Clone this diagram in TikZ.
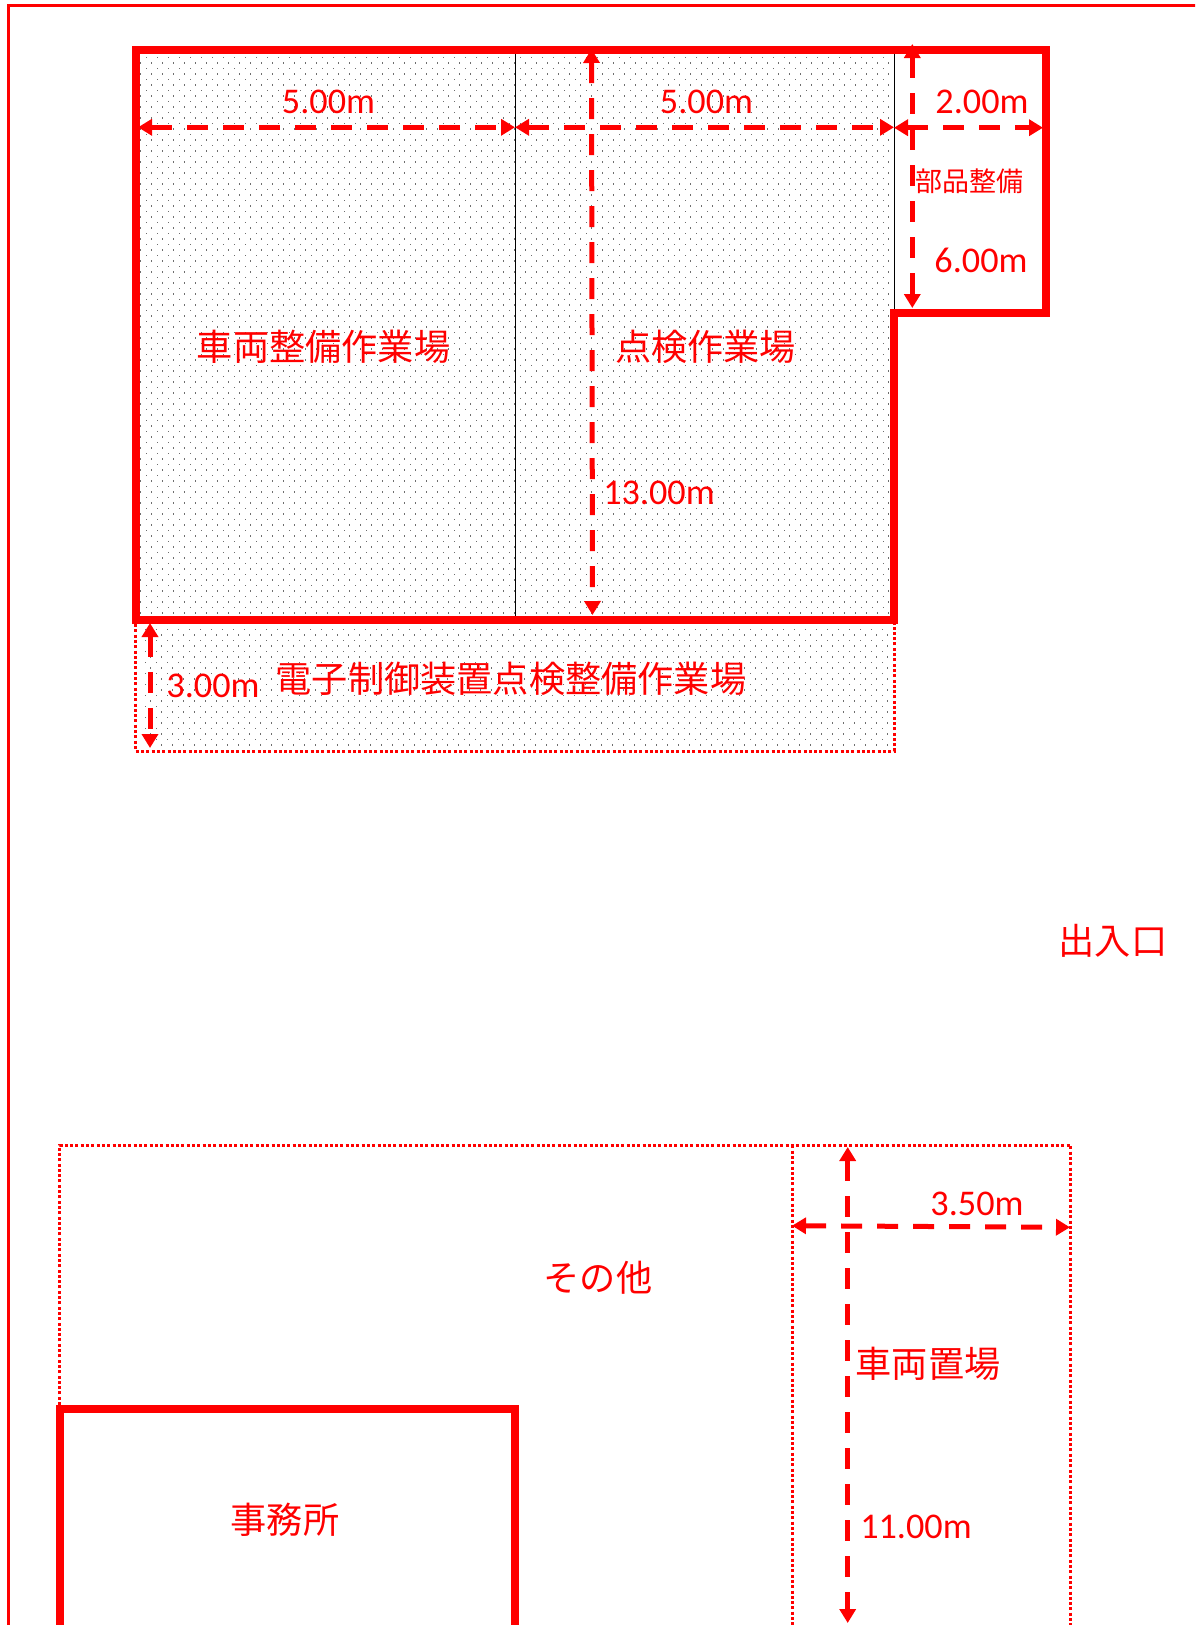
\documentclass[tikz,border=0pt]{standalone}
\usepackage{fontspec}
\setmainfont{Carlito}
\newfontfamily\jpfont{Noto Sans CJK JP}
\usetikzlibrary{arrows.meta}
\definecolor{dotgrey}{RGB}{110,110,110}
\tikzset{
  wall/.style={draw=red,line width=8.5pt,line join=miter},
  zone/.style={draw=red,line width=3pt,dash pattern=on 3pt off 2.3pt},
  dim/.style={draw=red,line width=5pt,dash pattern=on 21pt off 15pt,{Triangle[length=14pt,width=16pt]}-{Triangle[length=14pt,width=16pt]}},
  dimtxt/.style={text=red,inner sep=0pt,font=\fontsize{36.2}{36}\selectfont},
  jptxt/.style={text=red,inner sep=0pt,font=\fontsize{36.2}{36}\selectfont\jpfont},
  jpsmall/.style={text=red,inner sep=0pt,font=\fontsize{27}{27}\selectfont\jpfont},
}
\begin{document}
\begin{tikzpicture}[x=1pt,y=-1pt]
\useasboundingbox (0,0) rectangle (1195,1625);
\clip (0,0) rectangle (1195,1625);
\fill[white] (0,0) rectangle (1195,1625);
% stippled floor
\foreach \r in {0,...,101}{
  \pgfmathsetmacro{\yy}{56.7+5.5*\r}
  \pgfmathsetmacro{\xs}{mod(\r,2)==0?145.5:140.0}
  \foreach \c in {0,...,68}{
    \pgfmathsetmacro{\xx}{\xs+11*\c}
    \fill[dotgrey] (\xx,\yy) rectangle ++(1.3,1.3);
  }
}
\foreach \r in {0,...,21}{
  \pgfmathsetmacro{\yy}{628.7+5.5*\r}
  \pgfmathsetmacro{\xs}{mod(\r,2)==0?144.5:150.0}
  \foreach \c in {0,...,67}{
    \pgfmathsetmacro{\xx}{\xs+11*\c}
    \fill[dotgrey] (\xx,\yy) rectangle ++(1.3,1.3);
  }
}
% frame
\draw[red,line width=3pt] (8.5,1640) -- (8.5,5.5) -- (1210,5.5);
% partitions
\draw[black,line width=1pt] (515,54) -- (515,616);
\draw[black,line width=1pt] (894.3,54) -- (894.3,309);
% dotted zones
\draw[zone] (135.5,624) -- (135.5,751) -- (894,751) -- (894,624);
\draw[zone] (59.5,1405) -- (59.5,1145.3) -- (1070.8,1145.3) -- (1070.8,1640);
\draw[zone] (792.3,1145.3) -- (792.3,1640);
% walls
\draw[wall] (136,50) -- (1046,50) -- (1046,313) -- (894,313) -- (894,620) -- (136,620) -- cycle;
\draw[wall] (60,1660) -- (60,1409) -- (515,1409) -- (515,1660);
% dimension end points
\coordinate (a1) at (138,127.3);
\coordinate (a2) at (515,127.3);
\coordinate (a3) at (894,127.3);
\coordinate (a4) at (894,127.7);
\coordinate (a5) at (1043,127.7);
\coordinate (b1) at (912.3,44);
\coordinate (b2) at (912.3,308);
\coordinate (c1) at (591.5,49);
\coordinate (c2) at (592.5,615);
\coordinate (d1) at (150,623);
\coordinate (d2) at (150,748);
\coordinate (e1) at (847.7,1147);
\coordinate (e2) at (847.7,1623);
\coordinate (f1) at (792,1225.7);
\coordinate (f2) at (1070,1227.3);
\draw[dim] (a1) -- (a2);
\draw[dim] (a2) -- (a3);
\draw[dim] (a4) -- (a5);
\draw[dim] (b1) -- (b2);
\draw[dim] (c1) -- (c2);
\draw[dim] (d1) -- (d2);
\draw[dim] (e1) -- (e2);
\draw[dim] (f1) -- (f2);
% labels
\node[dimtxt] (t1) at (328.5,102) {5.00m};
\node[dimtxt] (t2) at (706.5,102) {5.00m};
\node[dimtxt] (t3) at (982,102) {2.00m};
\node[dimtxt] (t4) at (981,260) {6.00m};
\node[dimtxt] (t5) at (659,492.5) {13.00m};
\node[dimtxt] (t6) at (213,686) {3.00m};
\node[dimtxt] (t7) at (977,1204) {3.50m};
\node[dimtxt] (t8) at (916,1527) {11.00m};
\node[jpsmall] (j1) at (969,181) {部品整備};
\node[jptxt] (j2) at (323.5,347) {車両整備作業場};
\node[jptxt] (j3) at (705.5,347) {点検作業場};
\node[jptxt] (j4) at (511,678.6) {電子制御装置点検整備作業場};
\node[jptxt] (j5) at (1113,941) {出入口};
\node[jptxt] (j6) at (598,1277.5) {その他};
\node[jptxt] (j7) at (928,1363.5) {車両置場};
\node[jptxt] (j8) at (285,1520) {事務所};
\end{tikzpicture}
\end{document}
